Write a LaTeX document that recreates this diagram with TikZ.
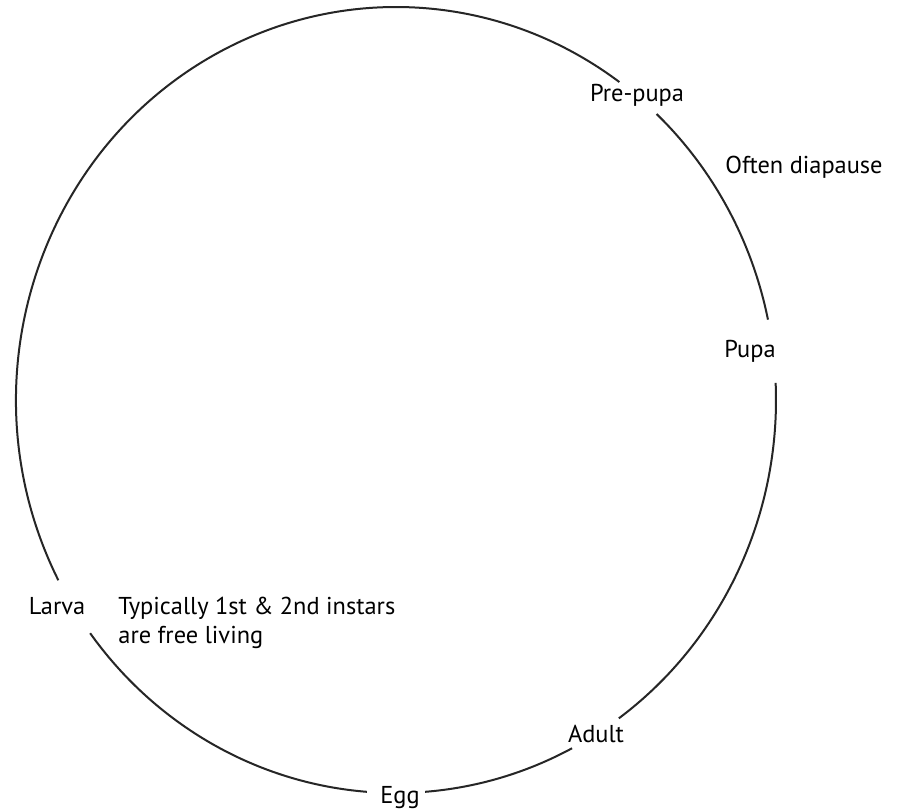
\documentclass[tikz,border=0pt]{standalone}
\usepackage{fontspec}
\setmainfont{PT Sans}
\usetikzlibrary{positioning}

\begin{document}
\begin{tikzpicture}[x=0.5pt,y=-0.5pt,
		cycle/.style={line width=1pt,draw=black!85},
		stage/.style={font=\fontsize{12.2}{14.5}\selectfont,inner sep=0pt,anchor=base},
		note/.style={font=\fontsize{12.2}{14.5}\selectfont,inner sep=0pt,anchor=base west,align=left}
		]
		
		% Page
		\useasboundingbox[fill=white] (0,0) rectangle (905,812);
		\coordinate (ctr) at (396,400);
		
		% Stages
		\node[stage] (prepupa) at (637,102) {Pre-pupa};
		\node[stage] (pupa) at (750,358) {Pupa};
		\node[stage] (adult) at (596,742) {Adult};
		\node[stage] (egg) at (400,803) {Egg};
		\node[stage] (larva) at (57,614) {Larva};
		
		% Notes
		\node[note] (diapause) at (725,174) {Often diapause};
		\node[note] (freeliving) at (118,643) {Typically 1st \& 2nd instars\\are free living};
		
		% Cycle, broken at each stage
		\draw[cycle] ([shift={(152.7:380 and 393)}]ctr) arc[start angle=152.7,end angle=306,x radius=380,y radius=393];
		\draw[cycle] ([shift={(-46.7:380 and 393)}]ctr) arc[start angle=-46.7,end angle=-11.8,x radius=380,y radius=393];
		\draw[cycle] ([shift={(-2.5:380 and 393)}]ctr) arc[start angle=-2.5,end angle=54.1,x radius=380,y radius=393];
		\draw[cycle] ([shift={(62.4:380 and 393)}]ctr) arc[start angle=62.4,end angle=85.6,x radius=380,y radius=393];
		\draw[cycle] ([shift={(94.4:380 and 393)}]ctr) arc[start angle=94.4,end angle=143.6,x radius=380,y radius=393];
		
	\end{tikzpicture}
\end{document}
